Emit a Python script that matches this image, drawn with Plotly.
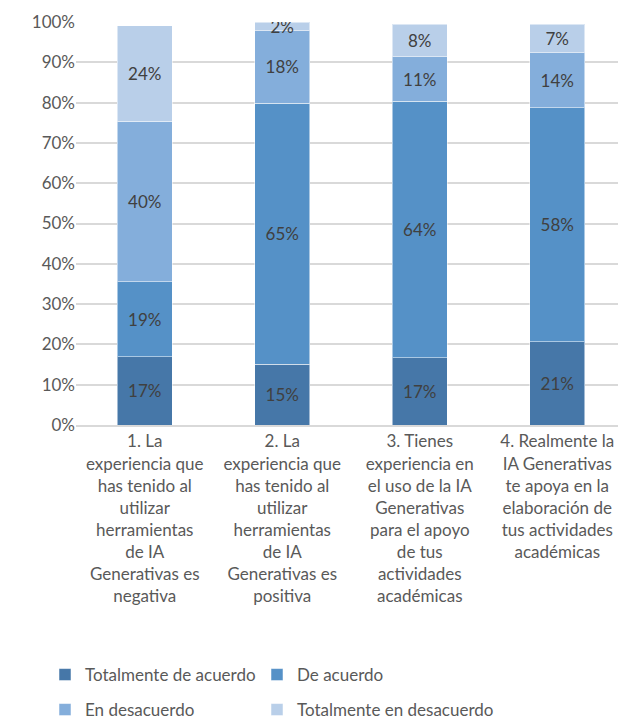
import plotly.graph_objects as go

categories = [
    "1. La<br>experiencia que<br>has tenido al<br>utilizar<br>herramientas<br>de IA<br>Generativas es<br>negativa",
    "2. La<br>experiencia que<br>has tenido al<br>utilizar<br>herramientas<br>de IA<br>Generativas es<br>positiva",
    "3. Tienes<br>experiencia en<br>el uso de la IA<br>Generativas<br>para el apoyo<br>de tus<br>actividades<br>académicas",
    "4. Realmente la<br>IA Generativas<br>te apoya en la<br>elaboración de<br>tus actividades<br>académicas",
]
series_names = ["Totalmente de acuerdo", "De acuerdo", "En desacuerdo", "Totalmente en desacuerdo"]
totalmente_acuerdo = [16.9, 15.1, 16.7, 20.7]
de_acuerdo = [18.6, 64.8, 63.6, 58.0]
en_desacuerdo = [39.9, 17.9, 11.1, 13.7]
totalmente_desacuerdo = [23.7, 2.1, 8.0, 7.0]

colors = ["#4677a8", "#5591c7", "#84aedb", "#b9cfe9"]
font = "Lato"

# the page body adds an 8px margin, so the figure is a bit smaller than the window
W, H = 618, 713

fig = go.Figure()
legend_ids = ["legend", "legend2", "legend3", "legend4"]
for i, (name, vals) in enumerate(zip(series_names, [totalmente_acuerdo, de_acuerdo, en_desacuerdo, totalmente_desacuerdo])):
    fig.add_trace(go.Bar(
        x=list(range(4)), y=vals, name=name,
        marker=dict(color=colors[i], line=dict(color="rgba(255,255,255,0.5)", width=1)),
        text=[f"{v:.0f}%" for v in vals],
        textposition="inside", insidetextanchor="middle", constraintext="none",
        textfont=dict(size=17, color="#404040", family=font),
        legend=legend_ids[i], showlegend=True,
        hoverinfo="skip",
    ))

# one small legend per entry so the 2x2 grid sits where the original has it
legend_style = dict(orientation="h", xref="container", yref="container", yanchor="middle",
                    font=dict(size=17, color="#595959"), itemwidth=30, bgcolor="rgba(0,0,0,0)")
cols = [37, 249]
rows = [667, 702]

fig.update_layout(
    barmode="stack",
    bargap=0.6,
    width=W, height=H,
    showlegend=True,
    margin=dict(l=68, r=0, t=14, b=296),
    plot_bgcolor="white", paper_bgcolor="white",
    font=dict(family=font, color="#595959"),
    **{lid: dict(legend_style, x=cols[i % 2] / W, y=1 - rows[i // 2] / H)
       for i, lid in enumerate(legend_ids)},
)
fig.update_xaxes(tickmode="array", tickvals=list(range(4)), ticktext=categories,
                 tickfont=dict(size=17, color="#595959"), showline=True, automargin=False,
                 linecolor="#d9d9d9", linewidth=2, range=[-0.5, 3.5])
fig.update_yaxes(range=[0, 100], dtick=10, ticksuffix="%", gridcolor="#d9d9d9", automargin=False,
                 gridwidth=2, tickfont=dict(size=17, color="#595959"), zeroline=False)

fig.write_html("out.html")
